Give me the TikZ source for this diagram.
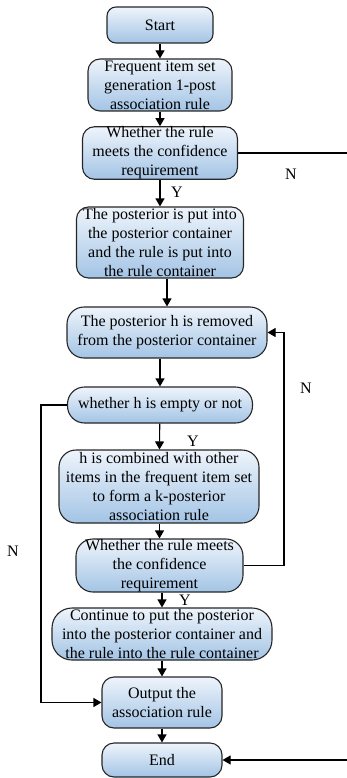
\documentclass[tikz,border=0pt]{standalone}
\usepackage{fontspec}
\setmainfont{Liberation Serif}
\usetikzlibrary{arrows.meta}
\definecolor{boxtop}{RGB}{238,244,251}
\definecolor{boxbot}{RGB}{163,196,229}

\begin{document}
\begin{tikzpicture}[x=1pt, y=-1pt, line width=1.1pt, font=\fontsize{16}{19}\selectfont,
	box/.style={draw=black!85, rounded corners=12pt, top color=boxtop, bottom color=boxbot, align=center, inner sep=0pt},
	flow/.style={-{Triangle[length=8pt,width=9pt]}}]
	\useasboundingbox (0,0) rectangle (347,778);
	% boxes
	\node[box, rounded corners=9pt, minimum width=106pt, minimum height=36pt] (start) at (160,25) {Start};
	\node[box, minimum width=144pt, minimum height=52pt] (freq) at (160,85) {Frequent item set\\generation 1-post\\association rule};
	\node[box, minimum width=155pt, minimum height=52pt] (rule1) at (160,153) {Whether the rule\\meets the confidence\\requirement};
	\node[box, minimum width=167pt, minimum height=71pt] (post) at (160,242.5) {The posterior is put into\\the posterior container\\and the rule is put into\\the rule container};
	\node[box, rounded corners=17pt, minimum width=200pt, minimum height=51pt] (remove) at (167,332.5) {The posterior h is removed\\from the posterior container};
	\node[box, rounded corners=17pt, minimum width=185pt, minimum height=36pt] (empty) at (160,405) {whether h is empty or not};
	\node[box, rounded corners=17pt, minimum width=200pt, minimum height=73pt] (comb) at (159,486.5) {h is combined with other\\items in the frequent item set\\to form a k-posterior\\association rule};
	\node[box, rounded corners=17pt, minimum width=167pt, minimum height=53pt] (rule2) at (159.5,565.5) {Whether the rule meets\\the confidence\\requirement};
	\node[box, rounded corners=20pt, minimum width=220pt, minimum height=52pt] (cont) at (162,634) {Continue to put the posterior\\into the posterior container and\\the rule into the rule container};
	\node[box, minimum width=120pt, minimum height=51pt] (out) at (162,702.5) {Output the\\association rule};
	\node[box, minimum width=120pt, minimum height=34pt] (endn) at (162,760) {End};
	% loose ends at the right edge
	\coordinate (rightA) at (347,153);
	\coordinate (rightB) at (347,760);
	\coordinate (loopR) at (284,0);
	\coordinate (loopL) at (41,0);
	% main flow
	\draw[flow] (start) -- (freq);
	\draw[flow] (freq) -- (rule1);
	\draw[flow] (rule1) -- (post);
	\draw[flow] (post.south -| remove) -- (remove.north);
	\draw[flow] (remove.south -| empty) -- (empty.north);
	\draw[flow] (empty) -- (comb);
	\draw[flow] (comb.south -| rule2) -- (rule2.north);
	\draw[flow] (rule2.south -| cont) -- (cont.north);
	\draw[flow] (cont) -- (out);
	\draw[flow] (out) -- (endn);
	% branches
	\draw (rule1.east) -- (rightA);
	\draw[flow] (rule2.east) -| (loopR |- remove.east) -- (remove.east);
	\draw[flow] (empty.west) -| (loopL |- out.west) -- (out.west);
	\draw[flow] (rightB) -- (endn.east);
	% labels
	\node (n1) at (291,174) {N};
	\node (n2) at (306,388) {N};
	\node (n3) at (13,551) {N};
	\node (y1) at (177,192) {Y};
	\node (y2) at (193,441) {Y};
	\node (y3) at (185,600) {Y};
\end{tikzpicture}
\end{document}
